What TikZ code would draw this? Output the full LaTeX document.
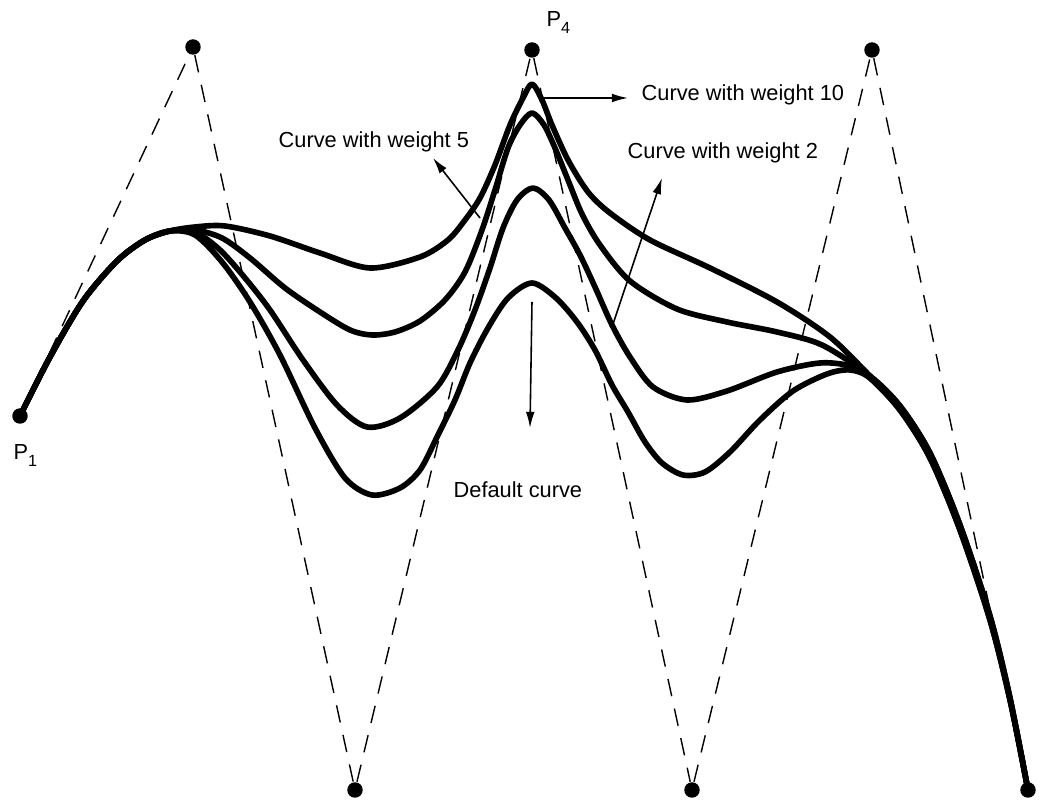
\documentclass[tikz,border=0pt]{standalone}
\usepackage{fontspec}
\setmainfont{Liberation Sans}
\usetikzlibrary{arrows.meta}

\begin{document}
\begin{tikzpicture}[x=0.01cm,y=-0.01cm,
  ctrl/.style={circle,fill=black,inner sep=0pt,minimum size=4.4pt},
  polygon/.style={line width=0.4pt,dash pattern=on 5pt off 3.6pt},
  curve/.style={line width=1.6pt,line join=round,line cap=round},
  pointer/.style={line width=0.45pt,-{Latex[length=4.6pt,width=2.5pt]}},
  lab/.style={font=\fontsize{6.2}{7.4}\selectfont,inner sep=0pt,anchor=base west}]
  \useasboundingbox (0,0) rectangle (1041,804);
  \def\head{(20,416) (50,357) (83,301) (117,261) (145,240) (170,231)}
  \def\tail{(870,378) (900,410) (930,458) (960,530) (990,620) (1010,700) (1028,790)}
  \def\tailup{(870,376) (900,406) (930,453) (960,525) (990,616) (1010,698) (1028,790)}
  % control polygon
  \node[ctrl] (p1) at (20,416) {};
  \node[ctrl] (p2) at (193,47) {};
  \node[ctrl] (p3) at (355,790) {};
  \node[ctrl] (p4) at (532,50) {};
  \node[ctrl] (p5) at (692,790) {};
  \node[ctrl] (p6) at (872,50) {};
  \node[ctrl] (p7) at (1028,790) {};
  \draw[polygon] (p1) -- (p2) -- (p3) -- (p4) -- (p5) -- (p6) -- (p7);
  % weighted curves
  \draw[curve] plot[smooth] coordinates {\head (195,227) (225,226) (270,236) (320,253) (370,268) (420,257) (448,240) (465,220) (480,198) (495,165) (510,125) (523,98) (532,84) (542,100) (552,125) (568,160) (588,192) (610,213) (650,240) (710,268) (777,302) (830,337) \tailup};
  \draw[curve] plot[smooth] coordinates {\head (195,230) (222,238) (250,258) (285,288) (320,312) (350,330) (372,335) (395,332) (420,321) (445,300) (465,272) (482,230) (495,190) (508,148) (520,125) (532,113) (544,125) (555,148) (568,180) (582,214) (600,245) (630,281) (677,309) (727,322) (777,332) (822,345) \tailup};
  \draw[curve] plot[smooth] coordinates {\head (195,232) (220,250) (245,278) (270,310) (303,360) (337,405) (367,427) (400,418) (437,387) (458,350) (475,310) (490,268) (503,228) (517,200) (533,188) (549,200) (565,228) (580,255) (595,287) (612,325) (630,357) (653,387) (687,400) (727,391) (777,372) (820,363) (850,366) \tail};
  \draw[curve] plot[smooth] coordinates {\head (195,235) (222,262) (250,302) (280,355) (315,428) (345,478) (372,495) (400,488) (420,470) (437,437) (455,400) (470,363) (488,328) (508,298) (532,283) (556,298) (577,322) (595,350) (612,385) (628,412) (645,442) (662,463) (683,475) (705,472) (730,452) (760,420) (793,391) (827,374) (850,370) \tail};
  % labels and pointers
  \node[lab] (l1) at (13,460) {P\raisebox{-0.55ex}{\fontsize{4.6}{5}\selectfont 1}};
  \node[lab] (l4) at (546,27) {P\raisebox{-0.55ex}{\fontsize{4.6}{5}\selectfont 4}};
  \node[lab] (w10) at (641,101) {Curve with weight 10};
  \node[lab] (w5) at (278,148) {Curve with weight 5};
  \node[lab] (w2) at (627,159) {Curve with weight 2};
  \node[lab] (w1) at (453,498) {Default curve};
  \coordinate (t10) at (543,98);
  \coordinate (t5) at (480,218);
  \coordinate (t2) at (612,327);
  \coordinate (t1) at (532,302);
  \draw[pointer] (t10) -- (628,98);
  \draw[pointer] (t5) -- (433,158);
  \draw[pointer] (t2) -- (662,178);
  \draw[pointer] (t1) -- (530,428);
\end{tikzpicture}
\end{document}
